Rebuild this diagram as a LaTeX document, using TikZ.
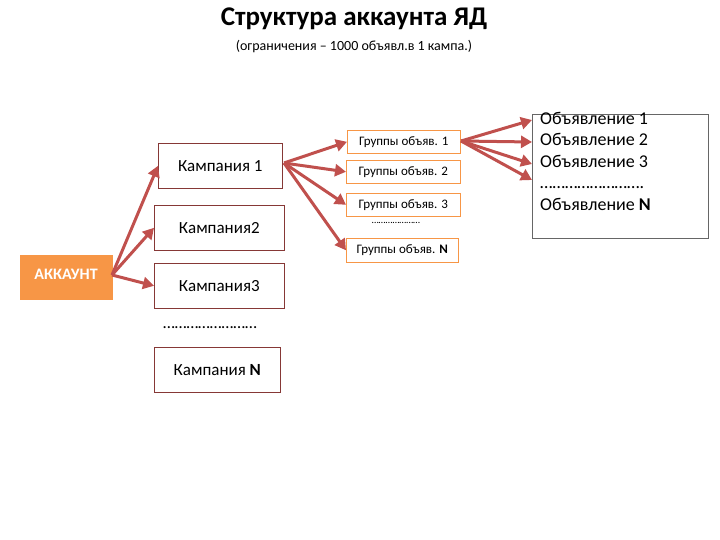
\documentclass[tikz,border=0pt]{standalone}
\usepackage{fontspec}
\setmainfont{Carlito}
\usetikzlibrary{arrows.meta}
\definecolor{arr}{RGB}{192,80,77}
\definecolor{org}{RGB}{247,150,70}
\begin{document}
\begin{tikzpicture}[x=1pt,y=-1pt,
  box/.style={draw=#1,line width=0.6pt,inner sep=0pt},
  camp/.style={box={arr!70!black},font=\fontsize{17}{20}\selectfont},
  grp/.style={box=org,font=\fontsize{13}{15}\selectfont},
  ar/.style={draw=arr,line width=3pt,-{Triangle[length=11pt,width=12pt]}}]
\useasboundingbox (0,0) rectangle (720,540);
\node[font=\bfseries\fontsize{27}{31}\selectfont] (title) at (354,19) {Структура аккаунта ЯД};
\node[font=\fontsize{14}{16}\selectfont] (sub) at (354,47) {(ограничения -- 1000 объявл.в 1 кампа.)};
\node[fill=org,draw=org,minimum width=92pt,minimum height=44pt,anchor=north west,inner sep=0pt] (acc) at (20,255) {};
\node[text=white,font=\bfseries\fontsize{16}{18}\selectfont] (acct) at (66,274) {АККАУНТ};
\node[camp,minimum width=124pt,minimum height=45pt,anchor=north west] (k1) at (158,143) {Кампания 1};
\node[camp,minimum width=130pt,minimum height=45pt,anchor=north west] (k2) at (154,205) {Кампания2};
\node[camp,minimum width=130pt,minimum height=45pt,anchor=north west] (k3) at (154,263) {Кампания3};
\node[font=\fontsize{17}{20}\selectfont] (kd) at (210,328) {……………………};
\node[camp,minimum width=126pt,minimum height=45pt,anchor=north west] (kn) at (154,347) {Кампания \textbf{N}};
\node[grp,minimum width=113pt,minimum height=23pt,anchor=north west] (g1) at (347,130) {Группы объяв. 1};
\node[grp,minimum width=114pt,minimum height=23pt,anchor=north west] (g2) at (346,160) {Группы объяв. 2};
\node[grp,minimum width=114pt,minimum height=23pt,anchor=north west] (g3) at (346,193) {Группы объяв. 3};
\node[font=\fontsize{10}{12}\selectfont] (gd) at (396,223) {…………………};
\node[grp,minimum width=112pt,minimum height=24pt,anchor=north west] (gn) at (346,238) {Группы объяв. \textbf{N}};
\node[draw=black!60,line width=0.6pt,minimum width=176pt,minimum height=124pt,anchor=north west,inner sep=0pt] (ads) at (532,114) {};
\node[anchor=north west,align=left,inner sep=0pt,font=\fontsize{18}{21.5}\selectfont] (adt) at (540,112) {Объявление 1\\Объявление 2\\Объявление 3\\…………………….\\Объявление \textbf{N}};
\coordinate (s0) at (112,275);
\draw[ar] (s0) -- (k1.west);
\draw[ar] (s0) -- (k2.west);
\draw[ar] (s0) -- (k3.west);
\coordinate (s1) at (284,163);
\draw[ar] (s1) -- (g1.west);
\draw[ar] (s1) -- (g2.west);
\draw[ar] (s1) -- (g3.west);
\draw[ar] (s1) -- (gn.west);
\coordinate (s2) at (461,141);
\draw[ar] (s2) -- (ads.west |- 0,120);
\draw[ar] (s2) -- (ads.west |- 0,142);
\draw[ar] (s2) -- (ads.west |- 0,164);
\draw[ar] (s2) -- (ads.west |- 0,180);
\end{tikzpicture}
\end{document}
